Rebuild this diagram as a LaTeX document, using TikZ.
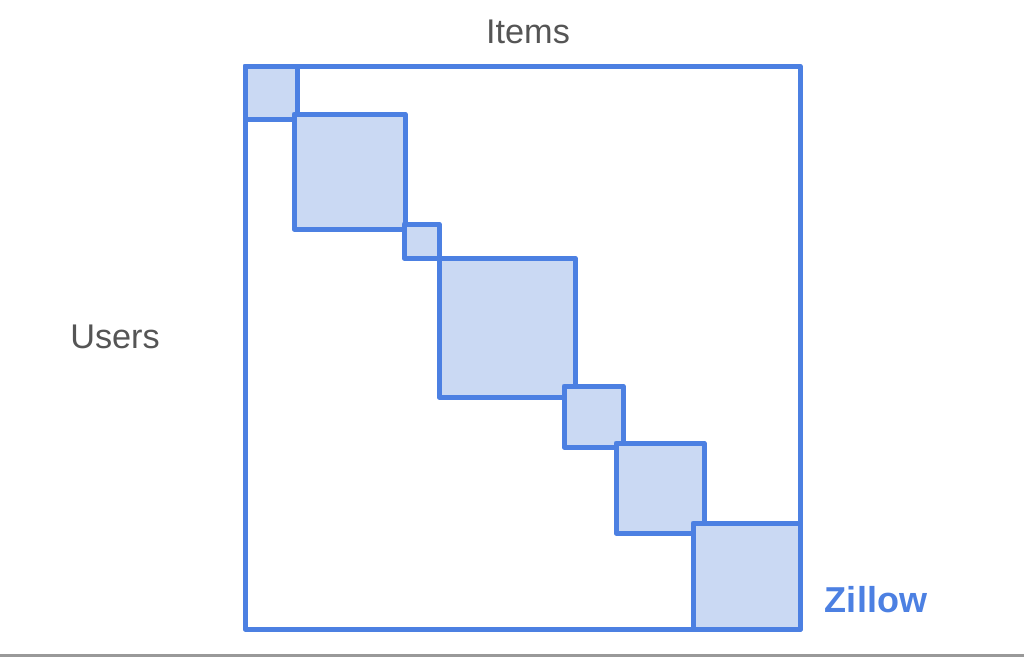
\documentclass[tikz,border=0pt]{standalone}
\usepackage{fontspec}
\setmainfont{Liberation Sans}
\usepackage{tikz}
\definecolor{blockline}{RGB}{76,128,226}
\definecolor{blockfill}{RGB}{202,217,243}
\definecolor{labelgray}{RGB}{85,85,85}
\tikzset{
matrixbox/.style={draw=blockline, line width=0.1cm, line join=round},
blockbox/.style={matrixbox, fill=blockfill},
axislabel/.style={text=labelgray, font=\fontsize{19.5}{22}\selectfont, inner sep=0pt, anchor=base},
}

\begin{document}
\begin{tikzpicture}[x=0.02cm, y=-0.02cm]
        \useasboundingbox (0,0) rectangle (1024,657);
        \fill[gray!80] (0,654) rectangle (1024,657);
        \draw[matrixbox] (245,66) rectangle (800,629);
        % diagonal blocks
        \foreach \xa/\ya/\xb/\yb in {245/66/297/119, 294/114/405/229, 404/224/439/258,
                439/258/575/397, 564/386/623/447, 616/443/704/533, 693/523/800/629}
            \draw[blockbox] (\xa,\ya) rectangle (\xb,\yb);
        \node[axislabel] at (528,43) (items) {Items};
        \node[axislabel] at (115,348) (users) {Users};
        \node[axislabel, text=blockline, font=\fontsize{20.5}{22}\selectfont\bfseries] at (876,612) (zillow) {Zillow};
    \end{tikzpicture}
\end{document}
